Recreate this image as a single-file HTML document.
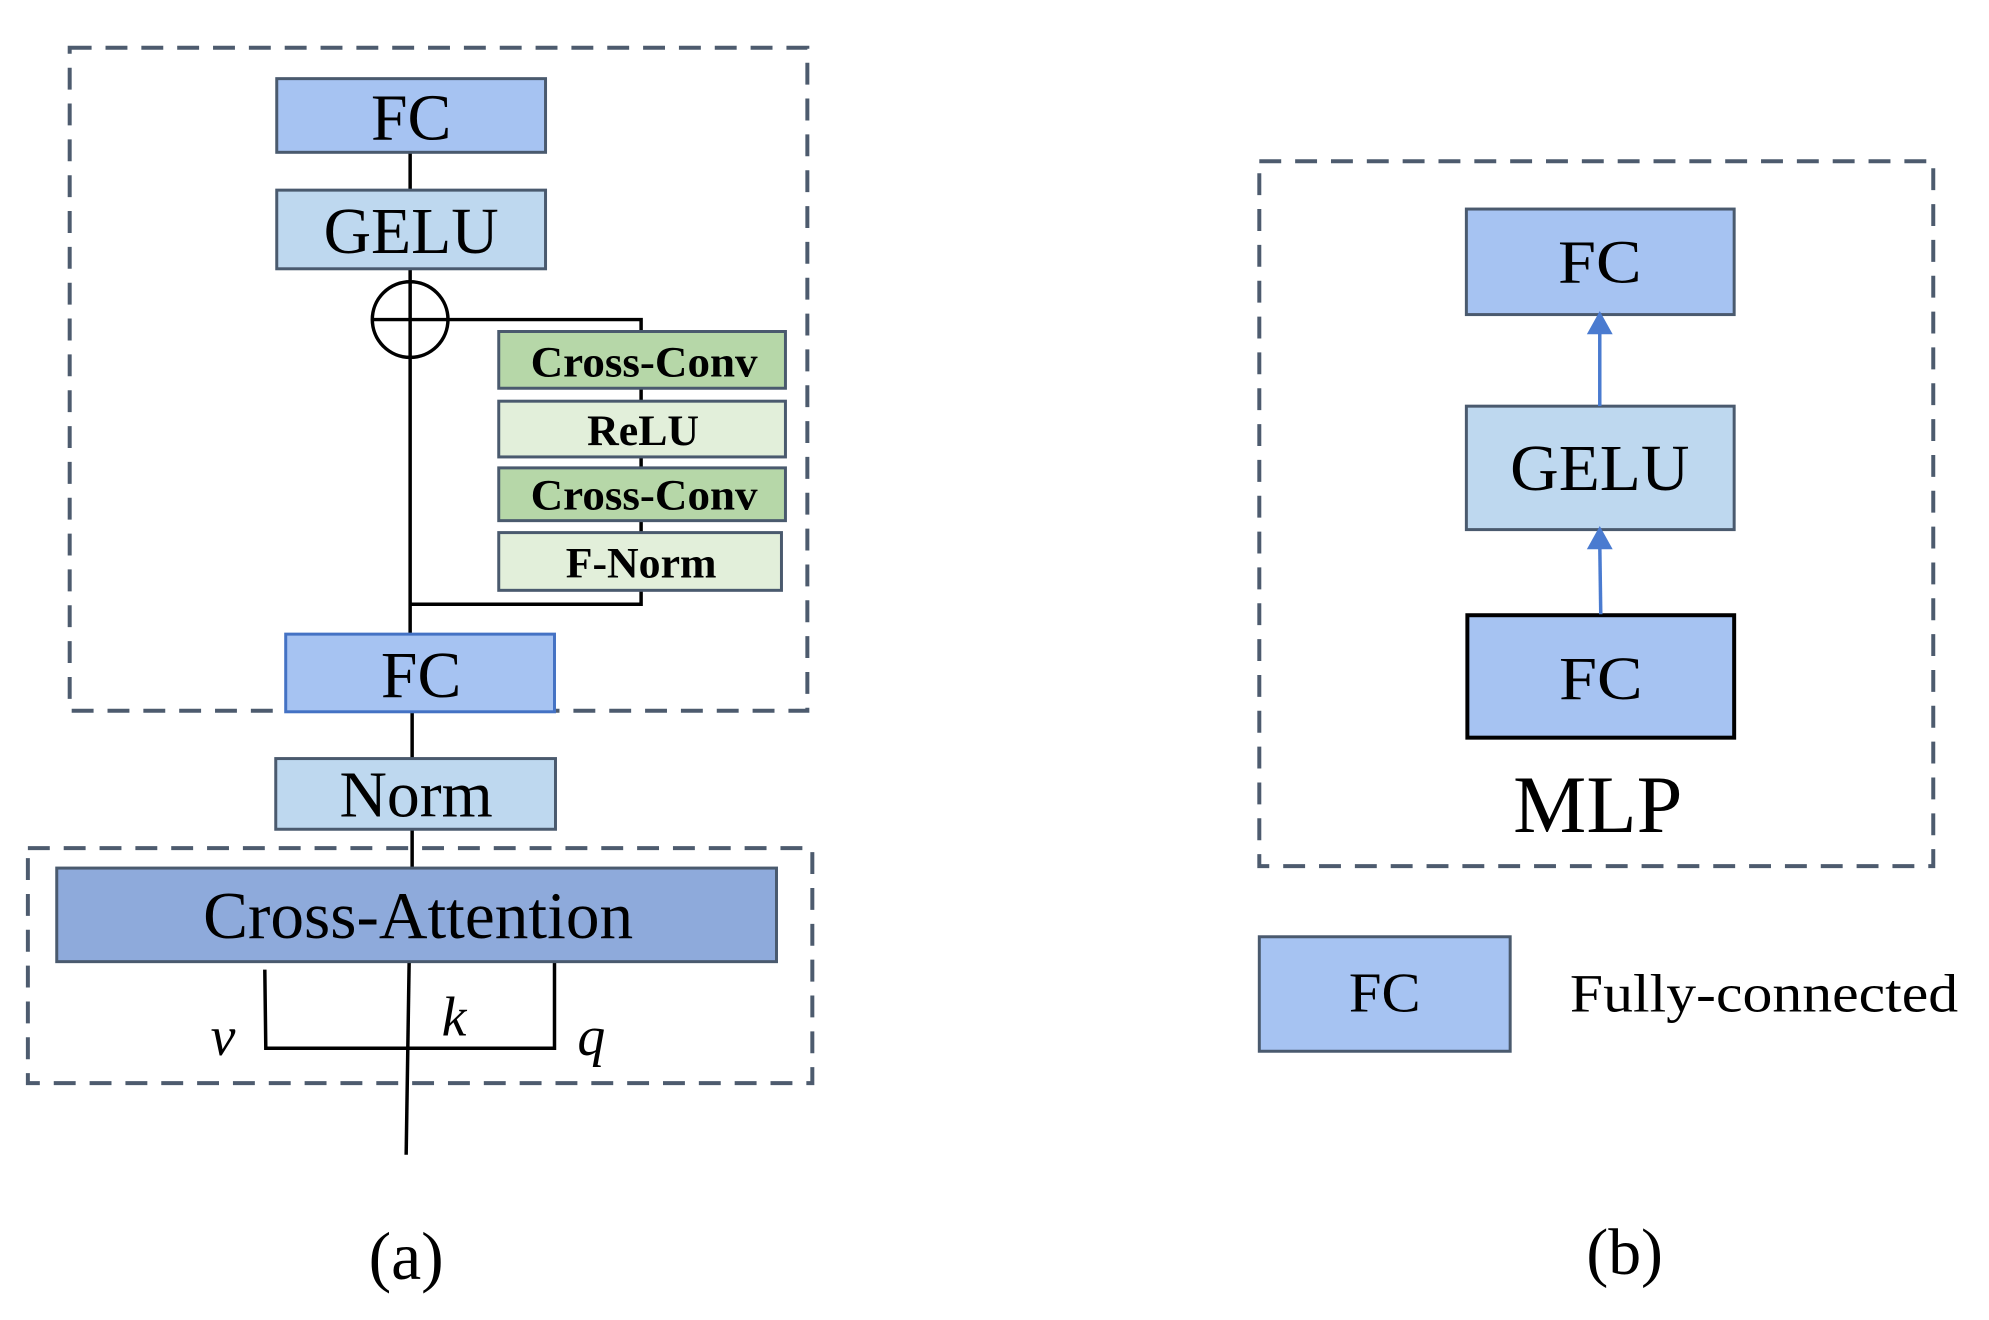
<!DOCTYPE html>
<html><head><style>html,body{margin:0;padding:0;background:#fff}svg{display:block}</style></head>
<body>
<svg width="1989" height="1320" viewBox="0 0 1989 1320" xmlns="http://www.w3.org/2000/svg" font-family="Liberation Serif, serif">
<g transform="scale(0.9955)">
<g fill="none" stroke="#4d5b6e" stroke-width="4" stroke-dasharray="22,14">
<rect x="70" y="48" width="741" height="666"/>
<rect x="28" y="852" width="788" height="236"/>
<rect x="1265" y="162" width="677" height="708"/>
</g>
<g stroke="#000" stroke-width="3.5" fill="none">
<line x1="412" y1="153" x2="412" y2="191"/>
<line x1="412" y1="270" x2="412" y2="637"/>
<circle cx="412" cy="321" r="38"/>
<line x1="374" y1="321" x2="450" y2="321"/>
<polyline points="450,321 644,321 644,333"/>
<line x1="644" y1="390" x2="644" y2="403"/>
<line x1="644" y1="459" x2="644" y2="470"/>
<line x1="644" y1="523" x2="644" y2="535"/>
<polyline points="644,593 644,607 412,607"/>
<line x1="414" y1="715" x2="414" y2="762"/>
<line x1="414" y1="833" x2="414" y2="872"/>
<polyline points="266,974 267,1053 557,1053 557,966"/>
<line x1="411" y1="966" x2="408" y2="1160"/>
</g>
<g stroke="#4a5a6e" stroke-width="3">
<rect x="278" y="79" width="270" height="74" fill="#a6c3f2"/>
<rect x="278" y="191" width="270" height="79" fill="#bed8ef"/>
<rect x="501" y="333" width="288" height="57" fill="#b6d7a8"/>
<rect x="501" y="403" width="288" height="56" fill="#e2efda"/>
<rect x="501" y="470" width="288" height="53" fill="#b6d7a8"/>
<rect x="501" y="535" width="284" height="58" fill="#e2efda"/>
<rect x="277" y="762" width="281" height="71" fill="#bed8ef"/>
<rect x="57" y="872" width="723" height="94" fill="#8eaadb"/>
<rect x="1473" y="210" width="269" height="106" fill="#a6c3f2"/>
<rect x="1473" y="408" width="269" height="124" fill="#bed8ef"/>
<rect x="1265" y="941" width="252" height="115" fill="#a6c3f2"/>
</g>
<rect x="287" y="637" width="270" height="78" fill="#a6c3f2" stroke="#4472c4" stroke-width="3"/>
<rect x="1474" y="618" width="268" height="123" fill="#a6c3f2" stroke="#000" stroke-width="4"/>
<g stroke="#4a7bd0" stroke-width="3.5" fill="#4a7bd0">
<line x1="1607" y1="408" x2="1607" y2="330"/>
<polygon points="1597,334 1617,334 1607,316"/>
<line x1="1608" y1="617" x2="1607" y2="546"/>
<polygon points="1597,550 1617,550 1607,532"/>
</g>
<g fill="#000" text-anchor="middle">
<text x="413" y="140" font-size="66">FC</text>
<text x="413" y="254" font-size="66">GELU</text>
<text x="647" y="378" font-size="44" font-weight="bold" textLength="228" lengthAdjust="spacingAndGlyphs">Cross-Conv</text>
<text x="646" y="447" font-size="44" font-weight="bold">ReLU</text>
<text x="647" y="512" font-size="44" font-weight="bold" textLength="228" lengthAdjust="spacingAndGlyphs">Cross-Conv</text>
<text x="644" y="580" font-size="44" font-weight="bold">F-Norm</text>
<text x="423" y="700" font-size="66">FC</text>
<text x="418" y="820" font-size="66">Norm</text>
<text x="420" y="942" font-size="67" textLength="432" lengthAdjust="spacingAndGlyphs">Cross-Attention</text>
<text x="224" y="1060" font-size="56" font-style="italic">v</text>
<text x="456" y="1040" font-size="56" font-style="italic">k</text>
<text x="594" y="1060" font-size="56" font-style="italic">q</text>
<text x="408" y="1285" font-size="68">(a)</text>
<text x="1607" y="284" font-size="62" textLength="84" lengthAdjust="spacingAndGlyphs">FC</text>
<text x="1607" y="492" font-size="66" textLength="180" lengthAdjust="spacingAndGlyphs">GELU</text>
<text x="1608" y="702" font-size="62" textLength="84" lengthAdjust="spacingAndGlyphs">FC</text>
<text x="1605" y="836" font-size="82" textLength="170" lengthAdjust="spacingAndGlyphs">MLP</text>
<text x="1391" y="1016" font-size="56" textLength="72" lengthAdjust="spacingAndGlyphs">FC</text>
<text x="1632" y="1280" font-size="66">(b)</text>
</g>
<text x="1577" y="1016" font-size="54" textLength="390" lengthAdjust="spacingAndGlyphs" fill="#000">Fully-connected</text>
</g>
</svg>
</body></html>
